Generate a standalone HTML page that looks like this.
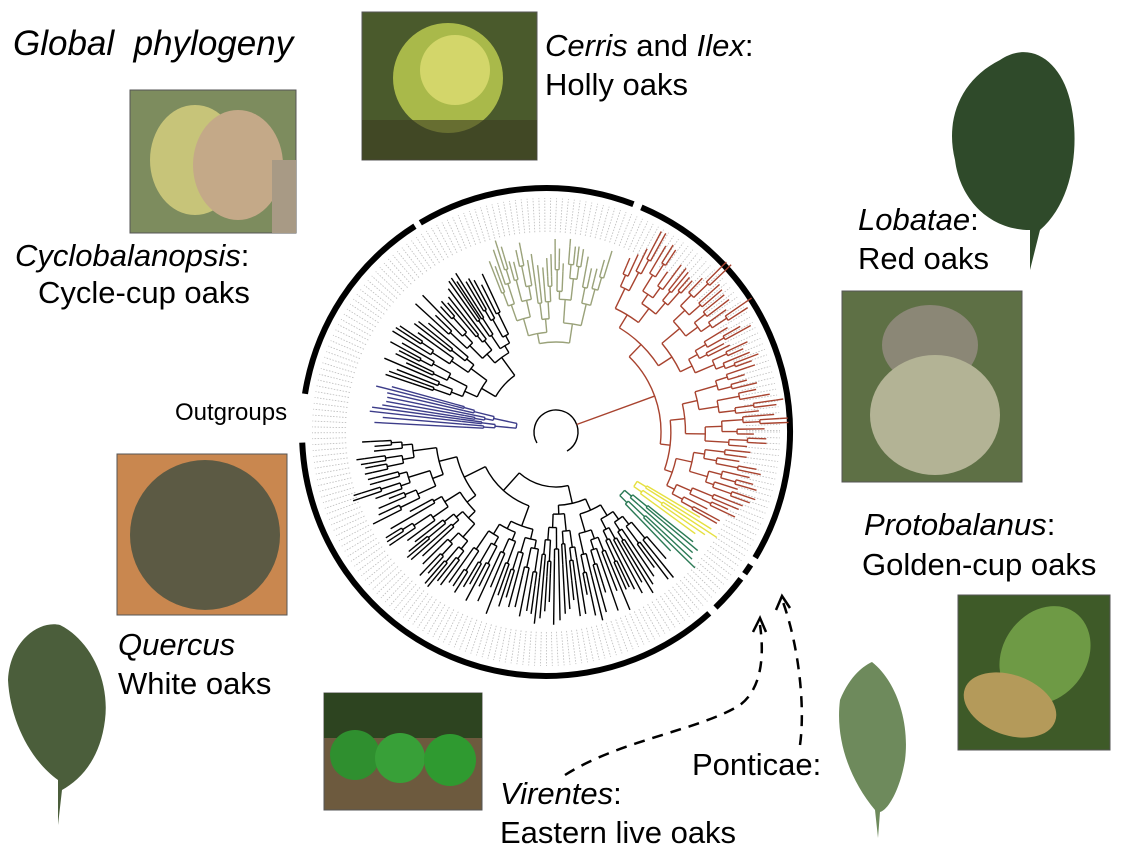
<!DOCTYPE html>
<html><head><meta charset="utf-8"><style>
html,body{margin:0;padding:0;background:#fff;}
body{width:1123px;height:852px;position:relative;overflow:hidden;font-family:"Liberation Sans",Arial,sans-serif;}
.t{position:absolute;font-size:31px;color:#000;white-space:nowrap;line-height:1;}
i{font-style:italic;}
</style></head><body>
<svg width="1123" height="852" style="position:absolute;left:0;top:0">
<rect x="130" y="90" width="166" height="143" fill="#7d8c5e" stroke="#555"/>
<ellipse cx="195" cy="160" rx="45" ry="55" fill="#c7c479"/>
<ellipse cx="238" cy="165" rx="45" ry="55" fill="#c4a988"/>
<rect x="272" y="160" width="24" height="73" fill="#a89a85"/>
<rect x="362" y="12" width="175" height="148" fill="#4a5a2c" stroke="#555"/>
<circle cx="448" cy="78" r="55" fill="#a9b94a"/><circle cx="455" cy="70" r="35" fill="#d3d66a"/>
<rect x="362" y="120" width="175" height="40" fill="#3c3c22" opacity=".6"/>
<rect x="842" y="291" width="180" height="191" fill="#5e7045" stroke="#555"/>
<ellipse cx="930" cy="345" rx="48" ry="40" fill="#8b8776"/>
<ellipse cx="935" cy="415" rx="65" ry="60" fill="#b3b395"/>
<rect x="117" y="454" width="170" height="161" fill="#c9874f" stroke="#555"/>
<circle cx="205" cy="535" r="75" fill="#5c5a44"/>
<rect x="324" y="693" width="158" height="117" fill="#6d5a3e" stroke="#555"/>
<rect x="324" y="693" width="158" height="45" fill="#2d4420"/>
<circle cx="355" cy="755" r="25" fill="#2f8f2f"/><circle cx="400" cy="758" r="25" fill="#38a038"/><circle cx="450" cy="760" r="26" fill="#2f9a30"/>
<rect x="958" y="595" width="152" height="155" fill="#3e5a28" stroke="#555"/>
<ellipse cx="1045" cy="655" rx="42" ry="52" fill="#6e9a45" transform="rotate(35 1045 655)"/>
<ellipse cx="1010" cy="705" rx="48" ry="30" fill="#b49a5a" transform="rotate(20 1010 705)"/>
<path d="M1030 270 L1030 230 C990 230 960 200 955 160 C945 120 960 80 1000 60 C1030 40 1060 60 1070 100 C1080 140 1075 200 1040 230 Z" fill="#2f4a2a"/>
<path d="M58 825 L58 780 C30 760 10 720 8 680 C10 640 40 620 60 625 C90 640 110 680 105 720 C100 760 80 780 62 790 Z" fill="#4b5e3b"/>
<path d="M878 838 L875 810 C850 780 835 740 840 700 C850 675 865 665 872 662 C895 680 910 720 905 760 C900 790 888 810 880 812 Z" fill="#6e8a5c"/>
<g id="ring" fill="none" stroke="#000" stroke-width="6"></g>
<g id="tree" fill="none" stroke-width="1.2"></g>
<path d="M565 775 C620 740 700 730 740 705 C760 690 765 660 760 625" fill="none" stroke="#000" stroke-width="2.5" stroke-dasharray="11,8"/>
<path d="M753 632 L760 618 L766 632" fill="none" stroke="#000" stroke-width="2.5"/>
<path d="M800 745 C805 710 800 650 783 602" fill="none" stroke="#000" stroke-width="2.5" stroke-dasharray="11,8"/>
<path d="M776 610 L782 596 L790 608" fill="none" stroke="#000" stroke-width="2.5"/>
</svg>
<div class="t" style="left:13px;top:26px;font-size:35px"><i>Global&nbsp; phylogeny</i></div>
<div class="t" style="left:545px;top:30px"><i>Cerris</i> and <i>Ilex</i>:</div>
<div class="t" style="left:545px;top:69px">Holly oaks</div>
<div class="t" style="left:15px;top:240px"><i>Cyclobalanopsis</i>:</div>
<div class="t" style="left:38px;top:277px">Cycle-cup oaks</div>
<div class="t" style="left:858px;top:204px"><i>Lobatae</i>:</div>
<div class="t" style="left:858px;top:243px">Red oaks</div>
<div class="t" style="left:175px;top:401px;font-size:24px">Outgroups</div>
<div class="t" style="left:864px;top:509px"><i>Protobalanus</i>:</div>
<div class="t" style="left:862px;top:549px">Golden-cup oaks</div>
<div class="t" style="left:118px;top:629px"><i>Quercus</i></div>
<div class="t" style="left:118px;top:668px">White oaks</div>
<div class="t" style="left:692px;top:749px">Ponticae:</div>
<div class="t" style="left:500px;top:778px"><i>Virentes</i>:</div>
<div class="t" style="left:500px;top:817px">Eastern live oaks</div>
<script>
var NS="http://www.w3.org/2000/svg";
function el(p,tag,a){var e=document.createElementNS(NS,tag);for(var k in a)e.setAttribute(k,a[k]);p.appendChild(e);return e;}
var R=document.getElementById("ring"),T=document.getElementById("tree");
var cx=546,cy=432,r=244;
function P(c,y,rr,a){a=a*Math.PI/180;return [c+rr*Math.cos(a),y+rr*Math.sin(a)];}
function arc(g,c,y,rr,a1,a2,col,w){var p1=P(c,y,rr,a1),p2=P(c,y,rr,a2);var d=a2-a1;while(d<0)d+=360;
 el(g,"path",{d:"M"+p1[0]+" "+p1[1]+" A"+rr+" "+rr+" 0 "+(d>180?1:0)+" 1 "+p2[0]+" "+p2[1],stroke:col,"stroke-width":w});}
[[293,391],[33,35.5],[37,46],[48,177.5],[189,237.5],[239,291]].forEach(function(s){arc(R,cx,cy,r,s[0],s[1],"#000",6);});
var tx=556,ty=432;
var seed=7;function rnd(){seed=(seed*9301+49297)%233280;return seed/233280;}
for(var a=0;a<360;a+=1.45){var p1=P(cx,cy,200,a),p2=P(cx,cy,234,a);
 el(T,"line",{x1:p1[0],y1:p1[1],x2:p2[0],y2:p2[1],stroke:"#bbb","stroke-width":0.8,"stroke-dasharray":"1.5,1.5"});}
function clade(a1,a2,r0,col,depth){
 var n=Math.max(1,Math.round((a2-a1)/1.45));
 if(n<=1||depth>9){var rr=165+30*rnd();if(rr<r0+8)rr=r0+8;var am=(a1+a2)/2;var p1=P(tx,ty,r0,am),p2=P(tx,ty,rr,am);
  el(T,"line",{x1:p1[0],y1:p1[1],x2:p2[0],y2:p2[1],stroke:col,"stroke-width":1.4});return am;}
 var m=a1+(a2-a1)*(0.35+0.3*rnd());
 var r1=r0+8+rnd()*16,r2=r0+8+rnd()*16;
 var c1=clade(a1,m,r1,col,depth+1),c2=clade(m,a2,r2,col,depth+1);
 arc(T,tx,ty,r0,c1,c2,col,1.4);
 [[c1,r1],[c2,r2]].forEach(function(q){var p1=P(tx,ty,r0,q[0]),p2=P(tx,ty,q[1],q[0]);el(T,"line",{x1:p1[0],y1:p1[1],x2:p2[0],y2:p2[1],stroke:col,"stroke-width":1.4});});
 return (c1+c2)/2;}
var red="#a8432f",olv="#9aa27a",grn="#2a7a55",yel="#e6e040",nav="#3d3d8a",blk="#000";
arc(T,tx,ty,22,150,60,blk,1.4);
var cr=clade(-68,30,105,red,0);
var p1=P(tx,ty,22,-20),p2=P(tx,ty,105,-20);el(T,"line",{x1:p1[0],y1:p1[1],x2:p2[0],y2:p2[1],stroke:red,"stroke-width":1.4});
clade(-112,-72,90,olv,0);
clade(-162,-114,70,blk,0);
clade(-178,-164,40,nav,0);
clade(30,37,95,yel,0);clade(38,47,90,grn,0);
clade(48,178,55,blk,0);
</script>
</body></html>
